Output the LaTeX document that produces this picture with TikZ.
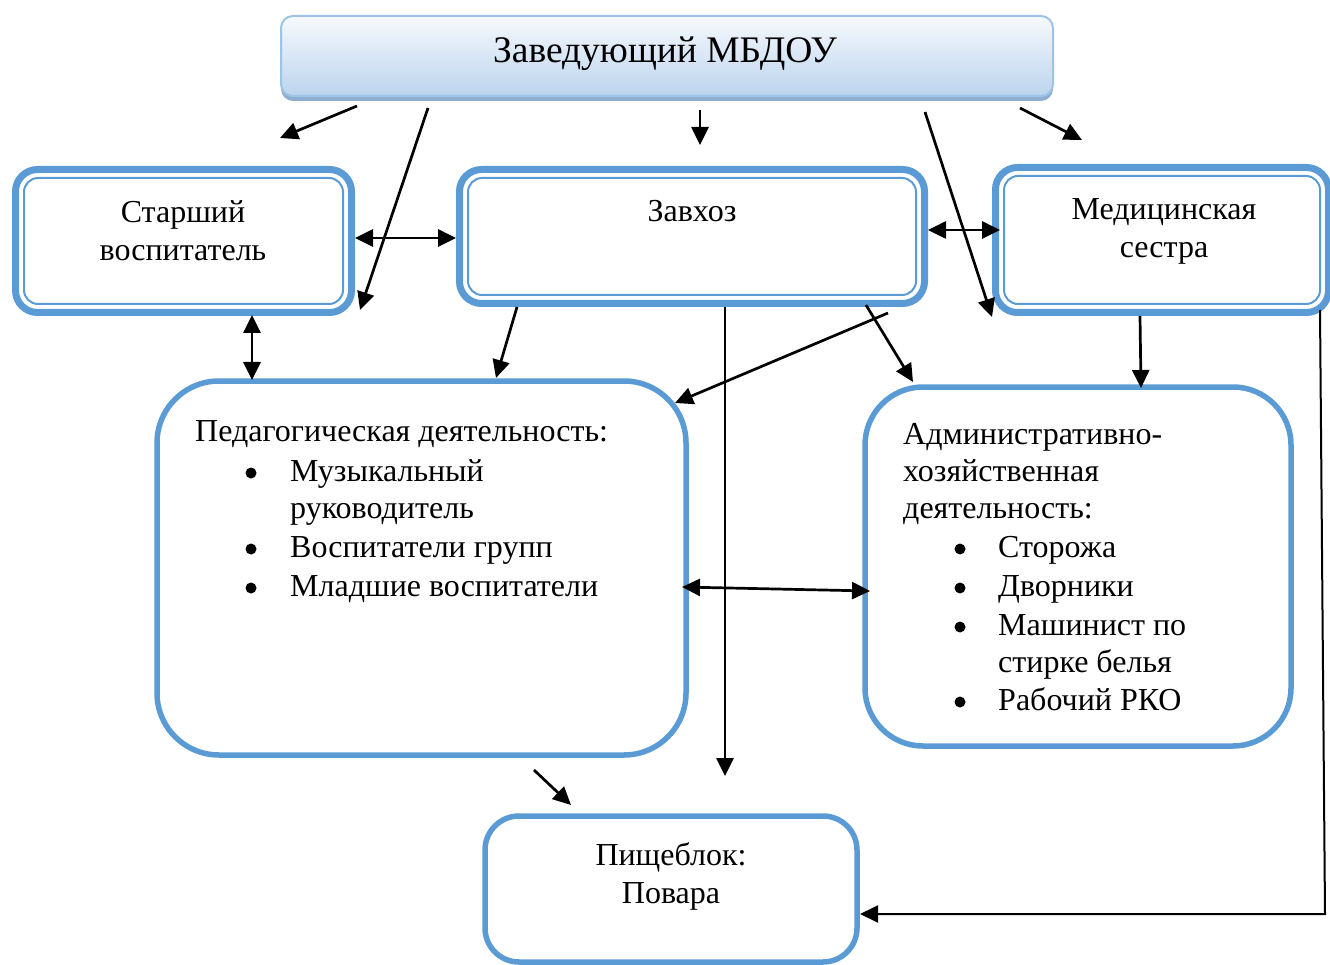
\documentclass[tikz,border=0pt]{standalone}
\usepackage{fontspec}
\setmainfont{Liberation Serif}
\usetikzlibrary{arrows.meta,shadows}
\definecolor{bl}{HTML}{5B9BD5}
\definecolor{lb}{HTML}{9DC3E6}
\definecolor{gtop}{HTML}{F6F9FD}
\definecolor{gbot}{HTML}{BCD4EE}
\definecolor{shd}{HTML}{8FAFD0}
\tikzset{
  myhead/.tip={Triangle[length=18pt 0 0,width=17pt 0 0]}
}
\begin{document}
\begin{tikzpicture}[x=1pt,y=-1pt,
  dbox/.style={draw=bl, line width=7pt, rounded corners=22pt, inner sep=0pt, outer sep=0pt},
  inline/.style={draw=bl, line width=2pt, rounded corners=14pt},
  rbox/.style={draw=bl, line width=5.5pt, inner sep=0pt, outer sep=0pt},
  txt/.style={font=\fontsize{32}{38}\selectfont, anchor=base, inner sep=0pt},
  ltxt/.style={font=\fontsize{32}{38}\selectfont, anchor=base west, inner sep=0pt},
  bul/.style={circle, fill=black, minimum size=11pt, inner sep=0pt},
  arr/.style={-myhead, line width=2.7pt},
  darr/.style={myhead-myhead, line width=2.7pt}
]
\useasboundingbox (0,0) rectangle (1330,965);

% top box
\node[draw=lb, line width=2pt, rounded corners=12pt, top color=gtop, bottom color=gbot,
      drop shadow={shadow xshift=0pt, shadow yshift=-5pt, fill=shd, opacity=1},
      minimum width=772pt, minimum height=80pt, inner sep=0pt] (top) at (667,56) {};
\node[font=\fontsize{37.5}{40}\selectfont, anchor=base, inner sep=0pt] (ttop) at (665,63) {Заведующий МБДОУ};

% double-border boxes
\node[dbox, minimum width=336pt, minimum height=143pt] (st) at (183.5,241) {};
\draw[inline] ([xshift=8.5pt,yshift=-8.5pt]st.north west) rectangle ([xshift=-8.5pt,yshift=8.5pt]st.south east);
\node[dbox, minimum width=465pt, minimum height=134pt] (zav) at (692,236.5) {};
\draw[inline] ([xshift=8.5pt,yshift=-8.5pt]zav.north west) rectangle ([xshift=-8.5pt,yshift=8.5pt]zav.south east);
\node[dbox, minimum width=333pt, minimum height=145pt] (med) at (1162,240) {};
\draw[inline] ([xshift=8.5pt,yshift=-8.5pt]med.north west) rectangle ([xshift=-8.5pt,yshift=8.5pt]med.south east);

% big rounded boxes
\node[rbox, rounded corners=62pt, minimum width=529pt, minimum height=374pt] (ped) at (421.5,568) {};
\node[rbox, rounded corners=58pt, minimum width=426pt, minimum height=359pt] (adm) at (1078,566.5) {};
\node[rbox, rounded corners=34pt, minimum width=372pt, minimum height=146pt] (pish) at (671,889) {};

% texts
\node[txt] (s1) at (183,222.5) {Старший};
\node[txt] (s2) at (183,260.5) {воспитатель};
\node[txt] (z1) at (692,222) {Завхоз};
\node[txt] (m1) at (1164,220) {Медицинская};
\node[txt] (m2) at (1164,258) {сестра};
\node[txt] (p1) at (671,865) {Пищеблок:};
\node[txt] (p2) at (671,903) {Повара};

\node[ltxt] (pd0) at (195,441) {Педагогическая деятельность:};
\node[bul] (pb1) at (251,473) {};
\node[ltxt] (pd1) at (290,481) {Музыкальный};
\node[ltxt] (pd2) at (290,518) {руководитель};
\node[bul] (pb2) at (251,549) {};
\node[ltxt] (pd3) at (290,557) {Воспитатели групп};
\node[bul] (pb3) at (251,588) {};
\node[ltxt] (pd4) at (290,596) {Младшие воспитатели};

\node[ltxt] (ad0) at (903,444) {Административно-};
\node[ltxt] (ad1) at (903,481) {хозяйственная};
\node[ltxt] (ad2) at (903,518) {деятельность:};
\node[bul] (ab1) at (960,549) {};
\node[ltxt] (ad3) at (998,557) {Сторожа};
\node[bul] (ab2) at (960,588) {};
\node[ltxt] (ad4) at (998,596) {Дворники};
\node[bul] (ab3) at (960,627) {};
\node[ltxt] (ad5) at (998,635) {Машинист по};
\node[ltxt] (ad6) at (998,672) {стирке белья};
\node[bul] (ab4) at (960,702) {};
\node[ltxt] (ad7) at (998,710) {Рабочий РКО};

% arrow end points
\coordinate (a1s) at (357,106); \coordinate (a1e) at (280,138);
\coordinate (a2s) at (428,108); \coordinate (a2e) at (360,310);
\coordinate (a3s) at (700,110); \coordinate (a3e) at (700,145);
\coordinate (a4s) at (925,112); \coordinate (a4e) at (992,317);
\coordinate (a5s) at (1020,108); \coordinate (a5e) at (1082,140);
\coordinate (a6s) at (355,238); \coordinate (a6e) at (456,238);
\coordinate (a7s) at (928,230); \coordinate (a7e) at (1000,230);
\coordinate (a8s) at (252,315); \coordinate (a8e) at (252,380);
\coordinate (a9s) at (517,307); \coordinate (a9e) at (496,378);
\coordinate (a10s) at (725,307); \coordinate (a10e) at (725,776);
\coordinate (a11s) at (888,313); \coordinate (a11e) at (675,403);
\coordinate (a12s) at (866,305); \coordinate (a12e) at (913,382);
\coordinate (a13s) at (1140,316); \coordinate (a13e) at (1141,388);
\coordinate (a14s) at (682,587); \coordinate (a14e) at (870,591);
\coordinate (a15s) at (534,770); \coordinate (a15e) at (571,805);
\coordinate (a16s) at (1320,310); \coordinate (a16m) at (1325,914); \coordinate (a16e) at (860,914);

\draw[arr] (a1s) -- (a1e);
\draw[arr] (a2s) -- (a2e);
\draw[arr] (a3s) -- (a3e);
\draw[arr] (a4s) -- (a4e);
\draw[arr] (a5s) -- (a5e);
\draw[darr] (a6s) -- (a6e);
\draw[darr] (a7s) -- (a7e);
\draw[darr] (a8s) -- (a8e);
\draw[arr] (a9s) -- (a9e);
\draw[arr] (a10s) -- (a10e);
\draw[arr] (a11s) -- (a11e);
\draw[arr] (a12s) -- (a12e);
\draw[arr] (a13s) -- (a13e);
\draw[darr] (a14s) -- (a14e);
\draw[arr] (a15s) -- (a15e);
\draw[arr, line width=2pt] (a16s) -- (a16m) -- (a16e);
\end{tikzpicture}
\end{document}
